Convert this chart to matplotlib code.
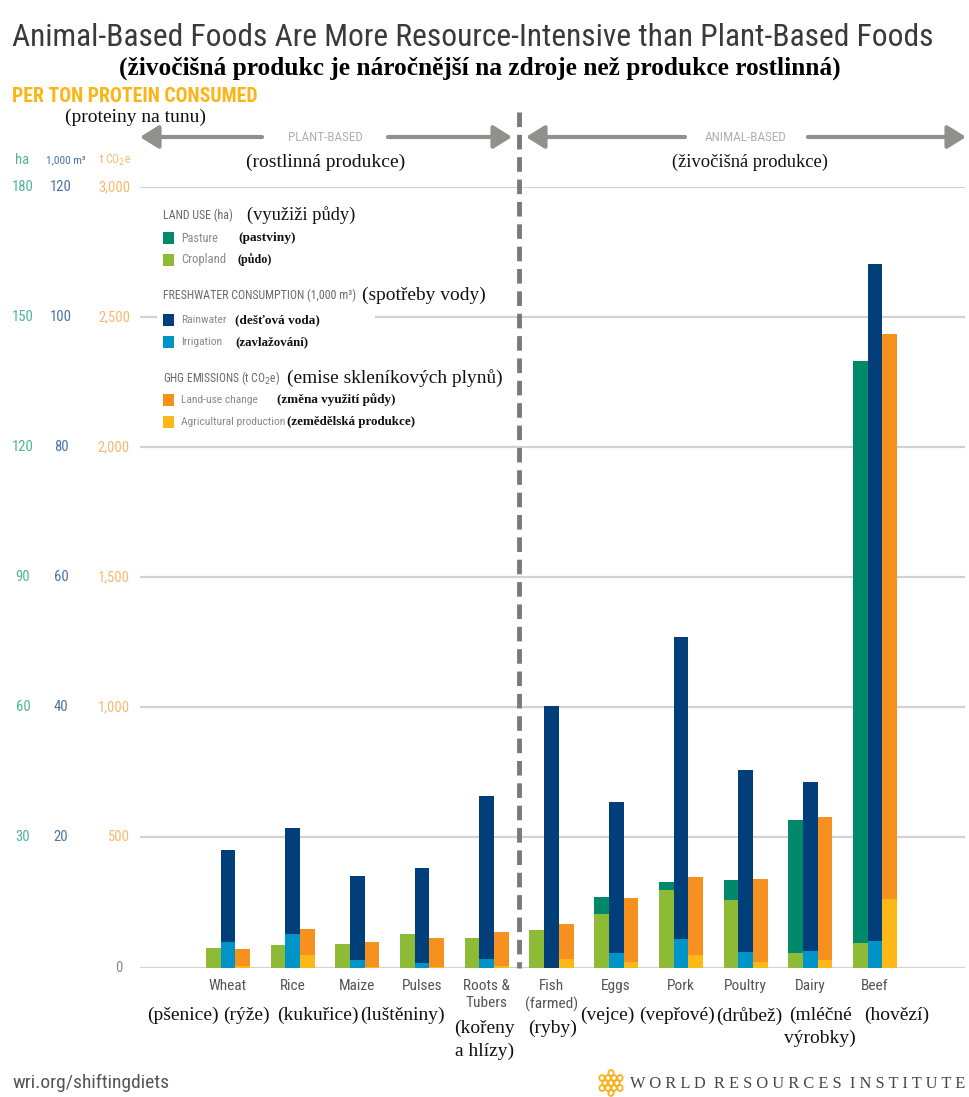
import matplotlib
matplotlib.use("Agg")
import matplotlib.pyplot as plt
from matplotlib.patches import Rectangle, Circle, FancyArrowPatch
from matplotlib.lines import Line2D
import matplotlib.transforms as mtransforms
from matplotlib import font_manager as fm

# ---------------- data ----------------
categories = ["Wheat", "Rice", "Maize", "Pulses", "Roots &\nTubers", "Fish\n(farmed)",
              "Eggs", "Pork", "Poultry", "Dairy", "Beef"]
categories_cz = ["(pšenice)", "(rýže)", "(kukuřice)", "(luštěniny)", "(kořeny\na hlízy)", "(ryby)",
                 "(vejce)", "(vepřové)", "(drůbež)", "(mléčné\nvýrobky)", "(hovězí)"]
cz_offsets = [-0.70, -0.71, -0.61, -0.30, -0.04, 0.02, -0.13, -0.06, 0.05, 0.15, 0.34]
cz_rows = [0, 0, 0, 0, 1, 1, 0, 0, 0, 0, 0]

# Land use (ha)
cropland_ha = [4.6, 5.1, 5.5, 7.7, 6.9, 8.7, 12.3, 17.9, 15.6, 3.3, 5.7]
pasture_ha = [0, 0, 0, 0, 0, 0, 4.0, 1.9, 4.6, 30.7, 134.1]
# Freshwater consumption (1,000 m3)
irrigation_k_m3 = [3.9, 5.1, 1.1, 0.65, 1.3, 0.0, 2.2, 4.4, 2.4, 2.5, 4.0]
rainwater_k_m3 = [14.2, 16.4, 13.0, 14.6, 25.1, 40.2, 23.3, 46.4, 27.9, 26.0, 104.2]
# GHG emissions (t CO2e)
ag_production_t = [5, 48, 3, 3, 5, 32, 20, 48, 22, 29, 265]
land_use_change_t = [66, 99, 94, 109, 132, 135, 248, 300, 318, 550, 2171]

ha_ticks = [30, 60, 90, 120, 150, 180]
water_ticks = [20, 40, 60, 80, 100, 120]
co2_ticks = [500, 1000, 1500, 2000, 2500, 3000]
co2_tick_labels = ["500", "1,000", "1,500", "2,000", "2,500", "3,000"]

HA_SCALE = 3000 / 180
W_SCALE = 3000 / 120

# ---------------- fonts ----------------
names = sorted({f.name for f in fm.fontManager.ttflist})
COND = None
STRETCH = "normal"
for cand in ["Liberation Sans Narrow", "Roboto Condensed", "Open Sans Condensed",
             "Noto Sans Condensed", "DejaVu Sans Condensed", "Arial Narrow"]:
    if cand in names:
        COND = cand
        break
if COND is None:
    for f in fm.fontManager.ttflist:
        if f.name == "DejaVu Sans" and "Condensed" in f.fname and "Bold" not in f.fname \
                and "Oblique" not in f.fname:
            COND, STRETCH = "DejaVu Sans", "condensed"
            break
if COND is None:
    for nm in names:
        if ("Condensed" in nm or "Narrow" in nm) and "Serif" not in nm and "Mono" not in nm:
            COND = nm
            break
if COND is None:
    COND = "Roboto" if "Roboto" in names else "Liberation Sans"
NARROW = [COND, "DejaVu Sans"]
SERIF = ["Liberation Serif", "DejaVu Serif"]

# ---------------- style ----------------
C_PASTURE = "#00896a"
C_CROP = "#8dbb35"
C_RAIN = "#003f7a"
C_IRR = "#0094c9"
C_LUC = "#f6901e"
C_AGP = "#fcb816"
C_GRID = "#d2d2d2"
C_HA = "#4fb596"
C_W = "#4873a6"
C_CO2 = "#f9b870"

W, H = 969, 1097
fig = plt.figure(figsize=(W / 100, H / 100), dpi=100)
fig.patch.set_facecolor("white")
renderer = fig.canvas.get_renderer()


def fx(px):
    return px / W


def fy(py):
    return 1 - py / H


def fit_text(x, y, s, width, size=10, **kw):
    t = fig.text(x, y, s, fontsize=size, **kw)
    bb = t.get_window_extent(renderer)
    if bb.width > 0:
        t.set_fontsize(size * width / bb.width)
    return t


def fit_size(s, width, size=10, **kw):
    t = fig.text(0, 0, s, fontsize=size, **kw)
    bb = t.get_window_extent(renderer)
    t.remove()
    return size * width / bb.width if bb.width > 0 else size


SANS_KW = dict(family=NARROW, fontstretch=STRETCH)

# axes: x pixel 138..965, y pixel 967.5 (0) .. 187 (3000)
x_c0, x_step = 228.0, 64.7
xl = (138 - x_c0) / x_step
xr = (965 - x_c0) / x_step
ax = fig.add_axes([fx(138), fy(967.5), (965 - 138) / W, (967.5 - 187) / H])
ax.set_xlim(xl, xr)
ax.set_ylim(0, 3000)
ax.axis("off")

for v in [0] + co2_ticks:
    if v == 2500:
        ax.hlines(v, xl + 0.03, (157 - x_c0) / x_step, color=C_GRID, lw=1.6, zorder=0)
        ax.hlines(v, (375 - x_c0) / x_step, xr, color=C_GRID, lw=1.6, zorder=0)
    else:
        ax.hlines(v, xl + 0.03, xr, color=C_GRID, lw=1.6, zorder=0)

bw = 0.227
n = len(categories)
xs = list(range(n))
x_land = [x - bw for x in xs]
x_water = xs
x_ghg = [x + bw for x in xs]

crop_s = [v * HA_SCALE for v in cropland_ha]
past_s = [v * HA_SCALE for v in pasture_ha]
irr_s = [v * W_SCALE for v in irrigation_k_m3]
rain_s = [v * W_SCALE for v in rainwater_k_m3]

ax.bar(x_land, crop_s, width=bw, color=C_CROP, zorder=2, linewidth=0)
ax.bar(x_land, past_s, width=bw, bottom=crop_s, color=C_PASTURE, zorder=2, linewidth=0)
ax.bar(x_water, irr_s, width=bw, color=C_IRR, zorder=2, linewidth=0)
ax.bar(x_water, rain_s, width=bw, bottom=irr_s, color=C_RAIN, zorder=2, linewidth=0)
ax.bar(x_ghg, ag_production_t, width=bw, color=C_AGP, zorder=2, linewidth=0)
ax.bar(x_ghg, land_use_change_t, width=bw, bottom=ag_production_t, color=C_LUC, zorder=2, linewidth=0)

# category labels
lab_tr = mtransforms.blended_transform_factory(ax.transData, fig.transFigure)
cat_size = fit_size("Poultry", 43, 10, **SANS_KW)
for i, lab in enumerate(categories):
    fig.text(i, fy(979), lab, transform=lab_tr, ha="center", va="top",
             fontsize=cat_size, color="#555555", linespacing=1.3, **SANS_KW)
for i, lab in enumerate(categories_cz):
    ytop = 1007 if cz_rows[i] == 0 else 1020
    fig.text(i + cz_offsets[i], fy(ytop), lab, transform=lab_tr, ha="center", va="top",
             fontsize=14, color="#111111", family=SERIF, linespacing=1.4)

# y tick labels (three scales)
ytr = mtransforms.blended_transform_factory(fig.transFigure, ax.transData)
tick_size = 10.5
for v in ha_ticks:
    fig.text(fx(23), v * HA_SCALE, str(v), transform=ytr, ha="center", va="center",
             fontsize=tick_size, color=C_HA, **SANS_KW)
for v in water_ticks:
    fig.text(fx(61), v * W_SCALE, str(v), transform=ytr, ha="center", va="center",
             fontsize=tick_size, color=C_W, **SANS_KW)
for v, s in zip(co2_ticks, co2_tick_labels):
    fig.text(fx(130), v, s, transform=ytr, ha="right", va="center",
             fontsize=tick_size, color=C_CO2, **SANS_KW)
fig.text(fx(123), 0, "0", transform=ytr, ha="right", va="center",
         fontsize=tick_size, color="#888888", **SANS_KW)

# unit header
fig.text(fx(22), fy(160), "ha", ha="center", va="center", fontsize=tick_size, color=C_HA, **SANS_KW)
fit_text(fx(46), fy(160), "1,000 m³", 40, 9, ha="left", va="center", color=C_W, **SANS_KW)
fit_text(fx(131), fy(160), "t CO$_2$e", 32, 9, ha="right", va="center", color=C_CO2, **SANS_KW)

# titles
fit_text(fx(12), fy(37), "Animal-Based Foods Are More Resource-Intensive than Plant-Based Foods",
         923, 24, ha="left", va="center", color="#3a3a3a", **SANS_KW)
fit_text(fx(480), fy(68), "(živočišná produkc je náročnější na zdroje než produkce rostlinná)",
         724, 15, ha="center", va="center", color="#000000", family=SERIF, weight="bold")
fit_text(fx(12), fy(96), "PER TON PROTEIN CONSUMED", 245, 13, ha="left", va="center",
         color="#fcb515", weight="bold", **SANS_KW)
fit_text(fx(65), fy(117), "(proteiny na tunu)", 140, 13, ha="left", va="center",
         color="#111111", family=SERIF)

# section arrows
ARROW_C = "#8e918c"


def arrow(x_from, x_to, y):
    fig.add_artist(FancyArrowPatch(
        (fx(x_from), fy(y)), (fx(x_to), fy(y)), transform=fig.transFigure,
        arrowstyle="-|>,head_length=0.8,head_width=0.5", mutation_scale=14,
        color=ARROW_C, lw=3, shrinkA=0, shrinkB=0))


arrow(262, 140, 137)
arrow(388, 512, 137)
arrow(685, 526, 137)
arrow(808, 966, 137)
fit_text(fx(325), fy(137), "PLANT-BASED", 75, 10, ha="center", va="center",
         color="#b0b0b0", **SANS_KW)
fit_text(fx(746), fy(137), "ANIMAL-BASED", 82, 10, ha="center", va="center",
         color="#b0b0b0", **SANS_KW)
fit_text(fx(326), fy(162), "(rostlinná produkce)", 158, 13, ha="center", va="center",
         color="#111111", family=SERIF)
fit_text(fx(750), fy(162), "(živočišná produkce)", 155, 13, ha="center", va="center",
         color="#111111", family=SERIF)

# dashed divider
fig.add_artist(Line2D([fx(519), fx(519)], [fy(112), fy(968)], transform=fig.transFigure,
                      color="#7a7a7a", lw=3.5, dashes=(3, 1.6)))


# legend
def head(y, txt, w, cz, czx, czw):
    fit_text(fx(163), fy(y), txt, w, 9, ha="left", va="center", color="#6a6a6a", **SANS_KW)
    fit_text(fx(czx), fy(y), cz, czw, 13, ha="left", va="center", color="#111111", family=SERIF)


def item(y, color, txt, w, cz, czx, czw):
    fig.add_artist(Rectangle((fx(163), fy(y + 6)), 11 / W, 12 / H, transform=fig.transFigure,
                             facecolor=color, edgecolor="none"))
    fit_text(fx(181), fy(y), txt, w, 9, ha="left", va="center", color="#8a8a8a", **SANS_KW)
    fit_text(fx(czx), fy(y), cz, czw, 9, ha="left", va="center", color="#111111",
             family=SERIF, weight="bold")


head(215, "LAND USE (ha)", 70, "(využiži půdy)", 247, 108)
item(238, C_PASTURE, "Pasture", 37, "(pastviny)", 238, 57)
item(260, C_CROP, "Cropland", 45, "(půdo)", 238, 34)
head(295, "FRESHWATER CONSUMPTION (1,000 m³)", 194, "(spotřeby vody)", 362, 123)
item(320, C_RAIN, "Rainwater", 45, "(dešťová voda)", 235, 84)
item(342, C_IRR, "Irrigation", 41, "(zavlažování)", 235, 73)
head(378, "GHG EMISSIONS (t CO$_2$e)", 117, "(emise skleníkových plynů)", 287, 215)
item(400, C_LUC, "Land-use change", 77, "(změna využití půdy)", 277, 118)
item(422, C_AGP, "Agricultural production", 104, "(zemědělská produkce)", 287, 128)

# footer
fit_text(fx(12), fy(1083), "wri.org/shiftingdiets", 156, 13, ha="left", va="center",
         color="#555555", **SANS_KW)
fit_text(fx(630), fy(1084), "W O R L D  R E S O U R C E S  I N S T I T U T E", 335, 11,
         ha="left", va="center", color="#444444", family=SERIF)
cx, cy = 611, 1083
for dx, dy in [(0, 0), (-6, 0), (6, 0), (-3, -5), (3, -5), (-3, 5), (3, 5),
               (0, -10), (0, 10), (-9, -5), (9, -5), (-9, 5), (9, 5)]:
    fig.add_artist(Circle((fx(cx + dx), fy(cy + dy)), 2.6 / W, transform=fig.transFigure,
                          facecolor="none", edgecolor="#f5b21b", lw=1.3))

fig.savefig("out.png", dpi=100, facecolor="white")
